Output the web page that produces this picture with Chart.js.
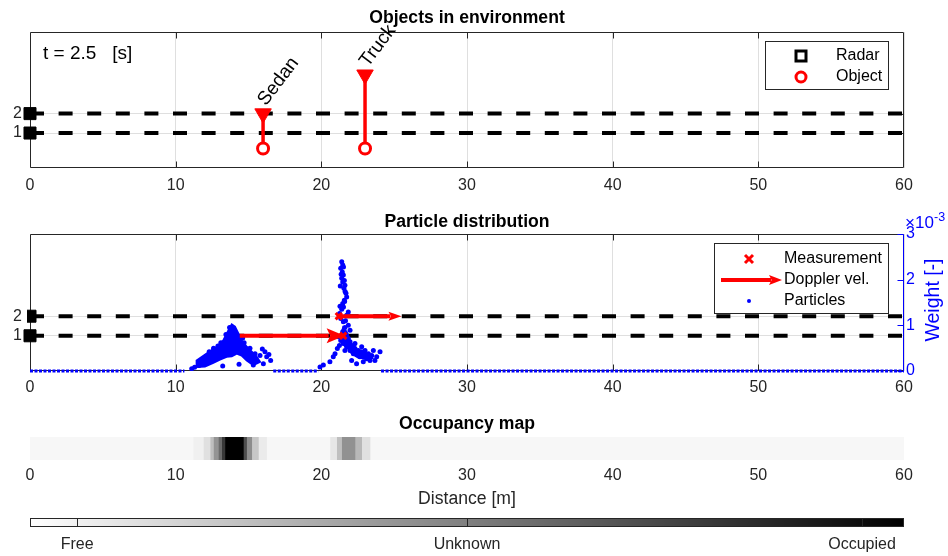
<!DOCTYPE html>
<html>
<head>
<meta charset="utf-8">
<script src="https://cdn.jsdelivr.net/npm/chart.js@4.4.0/dist/chart.umd.min.js"></script>
<style>
  html, body { margin: 0; padding: 0; background: #fff; }
  #wrap { position: relative; width: 948px; height: 556px; overflow: hidden; }
  canvas { position: absolute; left: 0; }
</style>
</head>
<body>
<div id="wrap">
  <canvas id="envChart" width="948" height="200" style="top:0px"></canvas>
  <canvas id="particleChart" width="948" height="200" style="top:200px"></canvas>
  <canvas id="occChart" width="948" height="112" style="top:400px"></canvas>
  <canvas id="cbarChart" width="948" height="51" style="top:505px"></canvas>
</div>
<script>
// ---- values ----
var xTicks = [0, 10, 20, 30, 40, 50, 60];
var sensorRows = [1, 2];
var radarX = [0, 0];
var timeStamp = 2.5;

var objectNames = ["Sedan", "Truck"];
var objectX = [16, 23];
var objectBaseY = [0.2, 0.2];
var objectTopY = [2, 4];

var measX = [21.5, 21.2];
var measRow = [1, 2];
var dopplerFromX = [14.4, 21.2];
var dopplerToX = [21.6, 25.5];
var dopplerRow = [1, 2];

var weightTicks = [0, 1, 2, 3]; // x 10^-3

// dense core of the first particle cloud (outline)
var core1X = [11.44, 11.44, 12.13, 12.82, 13.27, 13.62, 13.85, 14.07, 14.30, 14.53, 14.88, 15.22, 15.56, 15.79, 15.33, 14.88, 14.53, 14.19, 13.85, 13.50, 13.04, 12.58, 12.01, 11.44];
var core1W = [0.09, 0.23, 0.38, 0.53, 0.67, 0.89, 1.02, 0.97, 0.82, 0.67, 0.53, 0.42, 0.31, 0.20, 0.13, 0.23, 0.34, 0.38, 0.32, 0.31, 0.25, 0.18, 0.10, 0.09];
// dense core of the second cloud
var core2X = [21.30, 21.50, 21.75, 22.00, 22.40, 22.90, 23.40, 23.50, 23.00, 22.50, 22.10, 21.80, 21.50, 21.30];
var core2W = [0.75, 0.95, 0.85, 0.62, 0.48, 0.42, 0.35, 0.28, 0.27, 0.30, 0.38, 0.50, 0.58, 0.75];

// single particles
var cluster1X = [11.10, 11.30, 11.60, 11.85, 12.40, 13.23, 14.35, 15.33, 15.56, 15.79, 16.02, 16.13, 16.25, 16.52, 15.95, 16.40, 15.45, 13.70, 12.90, 14.70, 12.30, 12.60, 13.10, 13.45, 14.60, 15.10];
var cluster1W = [0.05, 0.08, 0.12, 0.16, 0.30, 0.11, 0.15, 0.13, 0.23, 0.34, 0.16, 0.42, 0.31, 0.23, 0.48, 0.36, 0.38, 0.95, 0.55, 0.62, 0.42, 0.50, 0.62, 0.80, 0.72, 0.50];
var cluster2X = [21.40, 21.47, 21.33, 21.44, 21.51, 21.40, 21.47, 21.62, 21.55, 21.69, 21.74, 21.58, 21.47, 21.28, 21.40, 21.85, 21.74, 21.33, 21.51, 21.85, 21.62, 21.97, 21.47,
  21.52, 21.36, 21.58, 21.30, 21.63, 21.52, 21.25, 21.66, 21.60,
  19.91, 20.14, 20.59, 20.82, 20.94, 21.10, 21.24, 21.33, 21.17,
  21.74, 21.85, 21.97, 22.20, 22.31, 22.54, 22.77, 23.00, 23.23, 23.46, 23.80, 24.03, 23.68, 23.11, 22.65, 22.20, 21.97, 21.74, 22.08, 22.42, 22.88, 23.34, 21.51, 21.62, 22.31, 22.77, 23.57];
var cluster2W = [2.39, 2.32, 2.25, 2.17, 2.10, 2.03, 1.95, 1.88, 1.81, 1.70, 1.62, 1.55, 1.48, 1.42, 1.35, 1.29, 1.22, 1.15, 1.08, 1.00, 0.95, 0.89, 0.86,
  2.28, 2.12, 1.98, 1.86, 1.74, 1.40, 1.26, 1.10, 1.52,
  0.09, 0.13, 0.20, 0.31, 0.38, 0.49, 0.56, 0.67, 0.75,
  0.78, 0.71, 0.64, 0.56, 0.49, 0.45, 0.42, 0.45, 0.38, 0.34, 0.31, 0.42, 0.23, 0.27, 0.31, 0.38, 0.45, 0.53, 0.23, 0.16, 0.20, 0.23, 0.60, 0.45, 0.60, 0.53, 0.45];
// stretches of particles with ~zero weight
var zeroFrom = [0, 16.7, 24.1];
var zeroTo = [10.6, 19.8, 60];

// occupancy map: cell edges [m] and occupancy probability
var occEdges = [0, 11.2, 11.9, 12.36, 12.59, 12.93, 13.16, 13.38, 14.65, 14.87, 15.22, 15.68, 16.24, 20.59, 21.05, 21.39, 22.31, 22.77, 23.34, 60];
var occProb = [0.03, 0.06, 0.12, 0.25, 0.42, 0.58, 0.78, 1.0, 0.7, 0.45, 0.22, 0.08, 0.03, 0.1, 0.25, 0.43, 0.28, 0.12, 0.03];

var cbarTicks = [0.054, 0.5, 0.952];
var cbarLabels = ["Free", "Unknown", "Occupied"];

// ---- styling ----
var axisColor = "#262626";
var gridColor = "rgba(38,38,38,0.15)";
var red = "#ff0000";
var blue = "#0000ff";
var fontFamily = '"Liberation Sans", Arial, Helvetica, sans-serif';

Chart.defaults.font.family = fontFamily;
Chart.defaults.font.size = 16;
Chart.defaults.color = axisColor;

function pts(xs, ys) {
  return xs.map(function (x, i) { return { x: x, y: ys[i] }; });
}
function fixTicks(values) {
  return function (scale) { scale.ticks = values.map(function (v) { return { value: v }; }); };
}
function xAxis(h, pad) {
  return {
    type: "linear", min: 0, max: 60,
    afterBuildTicks: fixTicks(xTicks),
    afterFit: function (s) { s.height = h; },
    grid: { color: gridColor, drawTicks: false },
    border: { display: false },
    ticks: { padding: pad, maxRotation: 0, autoSkip: false }
  };
}
function rowAxis() {
  return {
    type: "linear", position: "left", min: -0.8, max: 6.2,
    afterBuildTicks: fixTicks(sensorRows),
    afterFit: function (s) { s.width = 30; },
    grid: { color: gridColor, drawTicks: false },
    border: { display: false },
    ticks: { padding: 8 }
  };
}

function drawFrame(chart, withWeight) {
  var a = chart.chartArea, ctx = chart.ctx, xs = chart.scales.x, ys = chart.scales.y;
  var L = a.left + 0.5, R = a.right - 0.5, T = a.top + 0.5, B = a.bottom - 0.5;
  ctx.save();
  ctx.lineWidth = 1;
  ctx.strokeStyle = axisColor;
  ctx.beginPath();
  ctx.moveTo(R, T); ctx.lineTo(L, T); ctx.lineTo(L, B); ctx.lineTo(R, B);
  if (!withWeight) ctx.lineTo(R, T);
  xTicks.slice(1, -1).forEach(function (v) {
    var px = Math.round(xs.getPixelForValue(v)) + 0.5;
    ctx.moveTo(px, B); ctx.lineTo(px, B - 6);
    ctx.moveTo(px, T); ctx.lineTo(px, T + 6);
  });
  sensorRows.forEach(function (v) {
    var py = Math.round(ys.getPixelForValue(v)) + 0.5;
    ctx.moveTo(L, py); ctx.lineTo(L + 6, py);
    if (!withWeight) { ctx.moveTo(R, py); ctx.lineTo(R - 6, py); }
  });
  ctx.stroke();
  if (withWeight) {
    var ws = chart.scales.w;
    ctx.strokeStyle = blue;
    ctx.beginPath();
    ctx.moveTo(R, T); ctx.lineTo(R, B);
    weightTicks.forEach(function (v) {
      var py = Math.round(ws.getPixelForValue(v)) + 0.5;
      ctx.moveTo(R, py); ctx.lineTo(R - 6, py);
    });
    ctx.stroke();
  }
  ctx.restore();
}

function drawTitle(chart, text, dy) {
  var a = chart.chartArea, ctx = chart.ctx;
  ctx.save();
  ctx.fillStyle = "#000";
  ctx.font = "bold 17.6px " + fontFamily;
  ctx.textAlign = "center";
  ctx.textBaseline = "alphabetic";
  ctx.fillText(text, (a.left + a.right) / 2, a.top - dy);
  ctx.restore();
}

function legendBox(ctx, x, y, w, h) {
  ctx.fillStyle = "#fff";
  ctx.fillRect(x, y, w, h);
  ctx.strokeStyle = axisColor;
  ctx.lineWidth = 1;
  ctx.strokeRect(x + 0.5, y + 0.5, w, h);
}

function drawArrow(ctx, x0, x1, y, lw, headLen, headHalf) {
  ctx.fillStyle = red;
  ctx.strokeStyle = red;
  ctx.lineWidth = lw;
  ctx.beginPath();
  ctx.moveTo(x0, y); ctx.lineTo(x1 - headLen + 2, y);
  ctx.stroke();
  ctx.beginPath();
  ctx.moveTo(x1, y);
  ctx.lineTo(x1 - headLen, y - headHalf);
  ctx.lineTo(x1 - headLen * 0.8, y);
  ctx.lineTo(x1 - headLen, y + headHalf);
  ctx.closePath();
  ctx.fill();
}

// ---- panel 1: objects in environment ----
var envSets = [];
objectX.forEach(function (x, i) {
  envSets.push({
    data: [{ x: x, y: objectBaseY[i] }, { x: x, y: objectTopY[i] }],
    borderColor: red, borderWidth: 3.5,
    pointStyle: ["circle", "triangle"], pointRotation: [0, 180],
    pointRadius: [5.5, 9.5], pointBorderWidth: [3, 1],
    pointBackgroundColor: ["#ffffff", red], pointBorderColor: red,
    order: 1
  });
});
envSets.push({
  data: pts(radarX, sensorRows), showLine: false,
  pointStyle: "rect", pointRadius: 8.5, pointBackgroundColor: "#000",
  pointBorderColor: "#000", pointBorderWidth: 1, clip: false, order: 2
});
sensorRows.forEach(function (r) {
  envSets.push({
    data: [{ x: 0, y: r }, { x: 60, y: r }],
    borderColor: "#000", borderWidth: 4, borderDash: [14, 14.6],
    pointRadius: 0, order: 3
  });
});

var envDecor = {
  id: "envDecor",
  beforeDatasetsDraw: function (chart) { drawFrame(chart, false); },
  afterDraw: function (chart) {
    var a = chart.chartArea, ctx = chart.ctx, xs = chart.scales.x, ys = chart.scales.y;
    drawTitle(chart, "Objects in environment", 9);
    ctx.save();
    ctx.fillStyle = "#000";
    ctx.font = "19px " + fontFamily;
    ctx.textAlign = "left";
    ctx.textBaseline = "alphabetic";
    ctx.fillText("t = " + timeStamp + "   [s]", a.left + 13, a.top + 27);
    objectNames.forEach(function (name, i) {
      ctx.save();
      ctx.translate(xs.getPixelForValue(objectX[i]) + 3, ys.getPixelForValue(objectTopY[i]) - 7);
      ctx.rotate(-53 * Math.PI / 180);
      ctx.fillText(name, 0, 0);
      ctx.restore();
    });
    // legend
    legendBox(ctx, 765, 41, 123, 48);
    ctx.lineWidth = 3;
    ctx.strokeStyle = "#000";
    ctx.strokeRect(796, 51, 10, 10);
    ctx.strokeStyle = red;
    ctx.beginPath();
    ctx.arc(801, 77, 5, 0, Math.PI * 2);
    ctx.stroke();
    ctx.fillStyle = "#000";
    ctx.font = "16px " + fontFamily;
    ctx.textBaseline = "middle";
    ctx.fillText("Radar", 836, 56);
    ctx.fillText("Object", 836, 77);
    ctx.restore();
  }
};

new Chart(document.getElementById("envChart"), {
  type: "line",
  data: { datasets: envSets },
  options: {
    responsive: false, animation: false, devicePixelRatio: 1, events: [],
    layout: { padding: { top: 32, right: 44, left: 0, bottom: 0 } },
    scales: { x: xAxis(32, 8), y: rowAxis() },
    plugins: { legend: { display: false }, tooltip: { enabled: false } }
  },
  plugins: [envDecor]
});

// ---- panel 2: particle distribution ----
var partSets = [];
partSets.push({
  yAxisID: "y", data: pts(measX, measRow), showLine: false,
  pointStyle: "crossRot", pointRadius: 4.5, pointBorderWidth: 3,
  pointBorderColor: red, order: 1
});
partSets.push({
  yAxisID: "w", data: pts(cluster1X, cluster1W).concat(pts(cluster2X, cluster2W)),
  showLine: false, pointRadius: 2.5, pointBorderWidth: 0,
  pointBackgroundColor: blue, order: 2, isParticles: true
});
zeroFrom.forEach(function (x0, i) {
  partSets.push({
    yAxisID: "w", data: [{ x: x0, y: 0 }, { x: zeroTo[i], y: 0 }],
    borderColor: blue, borderWidth: 3, borderDash: [3, 1.5],
    pointRadius: 0, clip: 4, order: 4
  });
});
sensorRows.forEach(function (r, i) {
  partSets.push({
    yAxisID: "y", data: [{ x: radarX[i], y: r }], showLine: false,
    pointStyle: "rect", pointRadius: 8.5, pointBackgroundColor: "#000",
    pointBorderColor: "#000", pointBorderWidth: 1,
    clip: i === 0 ? false : { left: 3, top: 10, right: 10, bottom: 10 }, order: 5
  });
  partSets.push({
    yAxisID: "y", data: [{ x: 0, y: r }, { x: 60, y: r }],
    borderColor: "#000", borderWidth: 4, borderDash: [14, 14.6],
    pointRadius: 0, order: 6
  });
});

var partDecor = {
  id: "partDecor",
  beforeDatasetsDraw: function (chart) { drawFrame(chart, true); },
  beforeDatasetDraw: function (chart, args) {
    // dense particle cores, drawn just below the single particles
    if (!chart.data.datasets[args.index].isParticles) return;
    var xs = chart.scales.x, ws = chart.scales.w, ctx = chart.ctx;
    ctx.save();
    ctx.fillStyle = blue;
    ctx.strokeStyle = blue;
    ctx.lineWidth = 2;
    [[core1X, core1W], [core2X, core2W]].forEach(function (c) {
      ctx.beginPath();
      c[0].forEach(function (x, i) {
        var px = xs.getPixelForValue(x), py = ws.getPixelForValue(c[1][i]);
        if (i === 0) ctx.moveTo(px, py); else ctx.lineTo(px, py);
      });
      ctx.closePath();
      ctx.fill();
      ctx.stroke();
    });
    ctx.restore();
  },
  afterDatasetsDraw: function (chart) {
    var xs = chart.scales.x, ys = chart.scales.y, ctx = chart.ctx;
    var headLen = [18, 13], headHalf = [7.5, 4.5];
    ctx.save();
    dopplerFromX.forEach(function (x0, i) {
      drawArrow(ctx, xs.getPixelForValue(x0), xs.getPixelForValue(dopplerToX[i]),
        ys.getPixelForValue(dopplerRow[i]), 4, headLen[i], headHalf[i]);
    });
    ctx.restore();
  },
  afterDraw: function (chart) {
    var a = chart.chartArea, ctx = chart.ctx;
    drawTitle(chart, "Particle distribution", 7);
    ctx.save();
    // legend
    legendBox(ctx, 714, 43, 174, 70);
    ctx.strokeStyle = red;
    ctx.lineWidth = 3;
    ctx.beginPath();
    ctx.moveTo(745, 55); ctx.lineTo(753, 63);
    ctx.moveTo(753, 55); ctx.lineTo(745, 63);
    ctx.stroke();
    drawArrow(ctx, 721, 782, 80, 4, 13, 5);
    ctx.fillStyle = blue;
    ctx.beginPath();
    ctx.arc(749, 101, 2, 0, Math.PI * 2);
    ctx.fill();
    ctx.fillStyle = "#000";
    ctx.font = "16px " + fontFamily;
    ctx.textAlign = "left";
    ctx.textBaseline = "middle";
    ctx.fillText("Measurement", 784, 59);
    ctx.fillText("Doppler vel.", 784, 80);
    ctx.fillText("Particles", 784, 101);
    // weight axis label and exponent
    ctx.fillStyle = blue;
    ctx.save();
    ctx.translate(934, 100);
    ctx.rotate(-Math.PI / 2);
    ctx.textAlign = "center";
    ctx.font = "19.5px " + fontFamily;
    ctx.fillText("Weight [-]", 0, 0);
    ctx.restore();
    ctx.textBaseline = "alphabetic";
    ctx.font = "17px " + fontFamily;
    ctx.fillText("\u00d710", 905, 28);
    ctx.font = "12.5px " + fontFamily;
    ctx.fillText("-3", 934, 21);
    ctx.restore();
  }
};

new Chart(document.getElementById("particleChart"), {
  type: "line",
  data: { datasets: partSets },
  options: {
    responsive: false, animation: false, devicePixelRatio: 1, events: [],
    layout: { padding: { top: 34, right: 0, left: 0, bottom: 0 } },
    scales: {
      x: xAxis(29, 7),
      y: rowAxis(),
      w: {
        type: "linear", position: "right", min: 0, max: 3,
        afterBuildTicks: fixTicks(weightTicks),
        afterFit: function (s) { s.width = 44; },
        grid: { display: false, drawTicks: false },
        border: { display: false },
        ticks: { padding: 2, color: blue }
      }
    },
    plugins: { legend: { display: false }, tooltip: { enabled: false } }
  },
  plugins: [partDecor]
});

// ---- panel 3: occupancy map ----
function grayOf(p) {
  var g = Math.round(255 * (1 - p));
  return "rgb(" + g + "," + g + "," + g + ")";
}
var occSets = occProb.map(function (p, i) {
  return {
    data: [[occEdges[i], occEdges[i + 1]]],
    backgroundColor: grayOf(p), borderWidth: 0, grouped: false,
    barPercentage: 1, categoryPercentage: 1
  };
});
var occDecor = {
  id: "occDecor",
  afterDraw: function (chart) {
    var a = chart.chartArea, ctx = chart.ctx;
    drawTitle(chart, "Occupancy map", 8);
    ctx.save();
    ctx.fillStyle = axisColor;
    ctx.font = "17.6px " + fontFamily;
    ctx.textAlign = "center";
    ctx.fillText("Distance [m]", (a.left + a.right) / 2, 104);
    ctx.restore();
  }
};
new Chart(document.getElementById("occChart"), {
  type: "bar",
  data: { labels: ["occ"], datasets: occSets },
  options: {
    indexAxis: "y",
    responsive: false, animation: false, devicePixelRatio: 1, events: [],
    layout: { padding: { top: 37, right: 44, left: 30, bottom: 0 } },
    scales: {
      x: {
        type: "linear", min: 0, max: 60,
        afterBuildTicks: fixTicks(xTicks),
        afterFit: function (s) { s.height = 52; },
        grid: { display: false, drawTicks: false },
        border: { display: false },
        ticks: { padding: 6, maxRotation: 0, autoSkip: false }
      },
      y: { display: false }
    },
    plugins: { legend: { display: false }, tooltip: { enabled: false } }
  },
  plugins: [occDecor]
});

// ---- colour bar ----
var cbarDecor = {
  id: "cbarDecor",
  afterDraw: function (chart) {
    var a = chart.chartArea, ctx = chart.ctx;
    ctx.save();
    ctx.strokeStyle = axisColor;
    ctx.lineWidth = 1;
    ctx.strokeRect(a.left + 0.5, a.top + 0.5, a.right - a.left - 1, a.bottom - a.top - 1);
    ctx.restore();
  }
};
new Chart(document.getElementById("cbarChart"), {
  type: "bar",
  data: {
    labels: ["cbar"],
    datasets: [{
      data: [[0, 1]],
      backgroundColor: function (c) {
        var a = c.chart.chartArea;
        if (!a) return "#888";
        var g = c.chart.ctx.createLinearGradient(a.left, 0, a.right, 0);
        g.addColorStop(0, "#ffffff");
        g.addColorStop(1, "#000000");
        return g;
      },
      borderWidth: 0, barPercentage: 1, categoryPercentage: 1
    }]
  },
  options: {
    indexAxis: "y",
    responsive: false, animation: false, devicePixelRatio: 1, events: [],
    layout: { padding: { top: 13, right: 44, left: 30, bottom: 0 } },
    scales: {
      x: {
        type: "linear", min: 0, max: 1,
        afterBuildTicks: fixTicks(cbarTicks),
        afterFit: function (s) { s.height = 29; },
        grid: { color: axisColor, drawTicks: false, z: 1 },
        border: { display: false },
        ticks: {
          padding: 8, maxRotation: 0, autoSkip: false,
          callback: function (v) { return cbarLabels[cbarTicks.indexOf(v)]; }
        }
      },
      y: { display: false }
    },
    plugins: { legend: { display: false }, tooltip: { enabled: false } }
  },
  plugins: [cbarDecor]
});
</script>
</body>
</html>
